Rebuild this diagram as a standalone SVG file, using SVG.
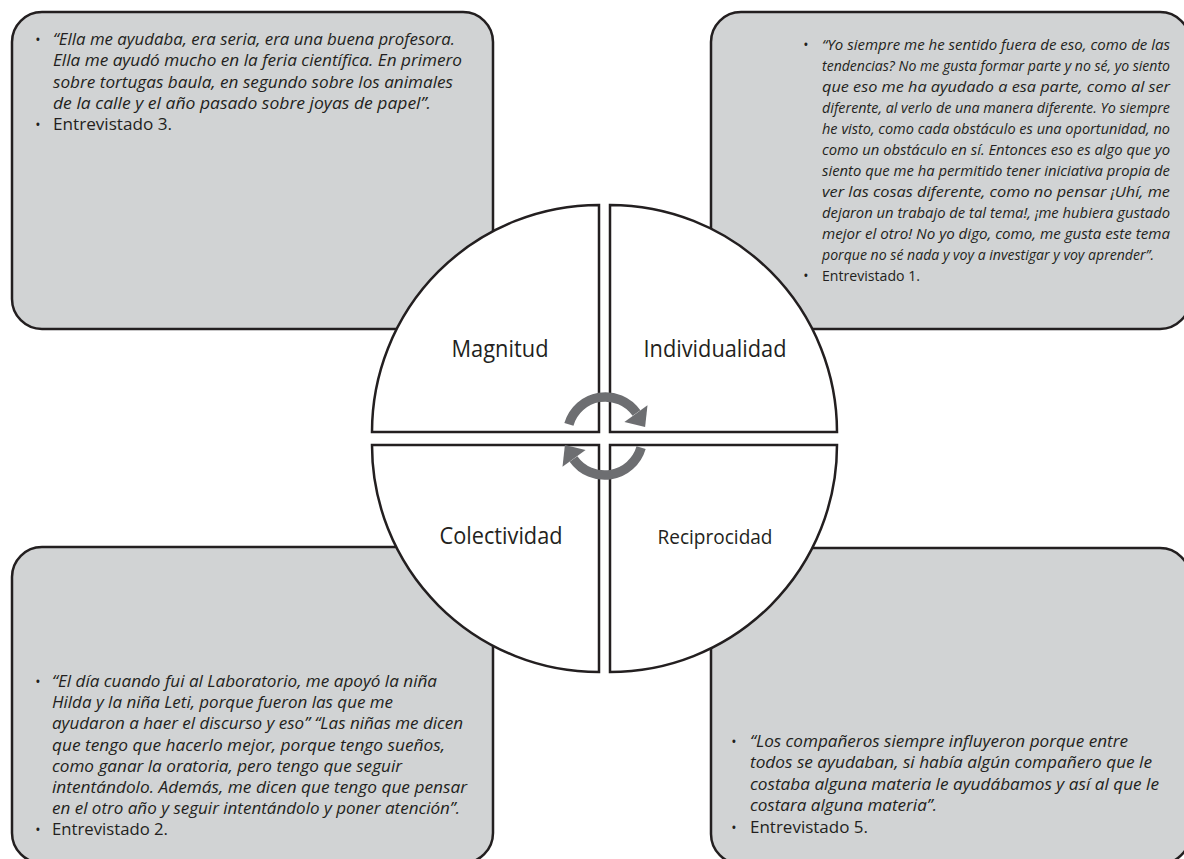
<svg xmlns="http://www.w3.org/2000/svg" width="1184" height="859" viewBox="0 0 1184 859">
<style>
.box{fill:#d1d3d4;stroke:#231f20;stroke-width:2.5}
.quad{fill:#ffffff;stroke:#231f20;stroke-width:2.5;stroke-linejoin:miter}
.t{font-family:"Open Sans","Liberation Sans",sans-serif;font-size:17px;fill:#231f20}
.s{font-size:14.5px}
.i{font-style:italic}
.bul{font-family:"Open Sans","Liberation Sans",sans-serif;font-size:14px;fill:#231f20;text-anchor:middle}
.lbl{font-family:"Open Sans","Liberation Sans",sans-serif;font-size:23px;fill:#231f20;text-anchor:middle}
.arc{fill:none;stroke:#6d6e71;stroke-width:9.5}
.head{fill:#6d6e71}
</style>
<rect width="1184" height="859" fill="#ffffff"/>

<g id="box-entrevistado-3">
<rect class="box" x="12" y="12" width="481" height="317" rx="30" ry="30"/>
<text class="bul" x="38" y="44.5">•</text>
<text class="t i" x="53" y="44.5" textLength="402" lengthAdjust="spacingAndGlyphs">“Ella me ayudaba, era seria, era una buena profesora.</text>
<text class="t i" x="53" y="66" textLength="409" lengthAdjust="spacingAndGlyphs">Ella me ayudó mucho en la feria científica. En primero</text>
<text class="t i" x="53" y="87.5" textLength="400" lengthAdjust="spacingAndGlyphs">sobre tortugas baula, en segundo sobre los animales</text>
<text class="t i" x="53" y="108.5" textLength="378" lengthAdjust="spacingAndGlyphs">de la calle y el año pasado sobre joyas de papel”.</text>
<text class="bul" x="38" y="130">•</text>
<text class="t" x="53" y="130" textLength="119" lengthAdjust="spacingAndGlyphs">Entrevistado 3.</text>
</g>

<g id="box-entrevistado-1">
<rect class="box" x="711" y="12" width="479" height="317" rx="30" ry="30"/>
<text class="bul" x="806" y="50">•</text>
<text class="t s i" x="822" y="50" textLength="348" lengthAdjust="spacingAndGlyphs">“Yo siempre me he sentido fuera de eso, como de las</text>
<text class="t s i" x="822" y="71" textLength="348" lengthAdjust="spacingAndGlyphs">tendencias? No me gusta formar parte y no sé, yo siento</text>
<text class="t s i" x="822" y="92" textLength="348" lengthAdjust="spacingAndGlyphs">que eso me ha ayudado a esa parte, como al ser</text>
<text class="t s i" x="822" y="113" textLength="348" lengthAdjust="spacingAndGlyphs">diferente, al verlo de una manera diferente. Yo siempre</text>
<text class="t s i" x="822" y="134" textLength="348" lengthAdjust="spacingAndGlyphs">he visto, como cada obstáculo es una oportunidad, no</text>
<text class="t s i" x="822" y="155" textLength="348" lengthAdjust="spacingAndGlyphs">como un obstáculo en sí. Entonces eso es algo que yo</text>
<text class="t s i" x="822" y="176" textLength="348" lengthAdjust="spacingAndGlyphs">siento que me ha permitido tener iniciativa propia de</text>
<text class="t s i" x="822" y="197" textLength="348" lengthAdjust="spacingAndGlyphs">ver las cosas diferente, como no pensar ¡Uhí, me</text>
<text class="t s i" x="822" y="218" textLength="348" lengthAdjust="spacingAndGlyphs">dejaron un trabajo de tal tema!, ¡me hubiera gustado</text>
<text class="t s i" x="822" y="239" textLength="348" lengthAdjust="spacingAndGlyphs">mejor el otro! No yo digo, como, me gusta este tema</text>
<text class="t s i" x="822" y="260" textLength="332" lengthAdjust="spacingAndGlyphs">porque no sé nada y voy a investigar y voy aprender”.</text>
<text class="bul" x="806" y="281">•</text>
<text class="t s" x="822" y="281" textLength="98" lengthAdjust="spacingAndGlyphs">Entrevistado 1.</text>
</g>

<g id="box-entrevistado-2">
<rect class="box" x="12" y="547" width="481" height="316" rx="30" ry="30"/>
<text class="bul" x="38" y="687">•</text>
<text class="t i" x="52" y="687" textLength="385" lengthAdjust="spacingAndGlyphs">“El día cuando fui al Laboratorio, me apoyó la niña</text>
<text class="t i" x="52" y="708.2" textLength="341" lengthAdjust="spacingAndGlyphs">Hilda y la niña Leti, porque fueron las que me</text>
<text class="t i" x="52" y="729.4" textLength="411" lengthAdjust="spacingAndGlyphs">ayudaron a haer el discurso y eso” “Las niñas me dicen</text>
<text class="t i" x="52" y="750.6" textLength="393" lengthAdjust="spacingAndGlyphs">que tengo que hacerlo mejor, porque tengo sueños,</text>
<text class="t i" x="52" y="771.8" textLength="350" lengthAdjust="spacingAndGlyphs">como ganar la oratoria, pero tengo que seguir</text>
<text class="t i" x="52" y="793" textLength="415" lengthAdjust="spacingAndGlyphs">intentándolo. Además, me dicen que tengo que pensar</text>
<text class="t i" x="52" y="814.2" textLength="408" lengthAdjust="spacingAndGlyphs">en el otro año y seguir intentándolo y poner atención”.</text>
<text class="bul" x="38" y="835.4">•</text>
<text class="t" x="52" y="835.4" textLength="116" lengthAdjust="spacingAndGlyphs">Entrevistado 2.</text>
</g>

<g id="box-entrevistado-5">
<rect class="box" x="711" y="548" width="479" height="316" rx="30" ry="30"/>
<text class="bul" x="734" y="746.5">•</text>
<text class="t i" x="750" y="746.5" textLength="378" lengthAdjust="spacingAndGlyphs">“Los compañeros siempre influyeron porque entre</text>
<text class="t i" x="750" y="768" textLength="402" lengthAdjust="spacingAndGlyphs">todos se ayudaban, si había algún compañero que le</text>
<text class="t i" x="750" y="789.5" textLength="409" lengthAdjust="spacingAndGlyphs">costaba alguna materia le ayudábamos y así al que le</text>
<text class="t i" x="750" y="811" textLength="187" lengthAdjust="spacingAndGlyphs">costara alguna materia”.</text>
<text class="bul" x="734" y="832.5">•</text>
<text class="t" x="750" y="832.5" textLength="118" lengthAdjust="spacingAndGlyphs">Entrevistado 5.</text>
</g>

<g id="quad-magnitud">
<path class="quad" d="M599 432 L372 432 A227 227 0 0 1 599 205 Z"/>
<text class="lbl" x="500" y="357" textLength="97" lengthAdjust="spacingAndGlyphs">Magnitud</text>
</g>
<g id="quad-individualidad">
<path class="quad" d="M610 432 L610 205 A227 227 0 0 1 837 432 Z"/>
<text class="lbl" x="715" y="357" textLength="143" lengthAdjust="spacingAndGlyphs">Individualidad</text>
</g>
<g id="quad-colectividad">
<path class="quad" d="M599 445 L599 672 A227 227 0 0 1 372 445 Z"/>
<text class="lbl" x="501" y="544" textLength="123" lengthAdjust="spacingAndGlyphs">Colectividad</text>
</g>
<g id="quad-reciprocidad">
<path class="quad" d="M610 445 L837 445 A227 227 0 0 1 610 672 Z"/>
<text class="lbl" x="715" y="544" style="font-size:20px" textLength="115" lengthAdjust="spacingAndGlyphs">Reciprocidad</text>
</g>

<g id="connectors">
<g id="arrow-top">
<path class="arc" d="M568.9 424.3 A38 38 0 0 1 636.5 413.1"/>
<polygon class="head" points="624.4,421.9 647.5,405.2 645.1,427"/>
</g>
<g id="arrow-bottom" transform="rotate(180 605 436)">
<path class="arc" d="M568.9 424.3 A38 38 0 0 1 636.5 413.1"/>
<polygon class="head" points="624.4,421.9 647.5,405.2 645.1,427"/>
</g>
</g>
</svg>
